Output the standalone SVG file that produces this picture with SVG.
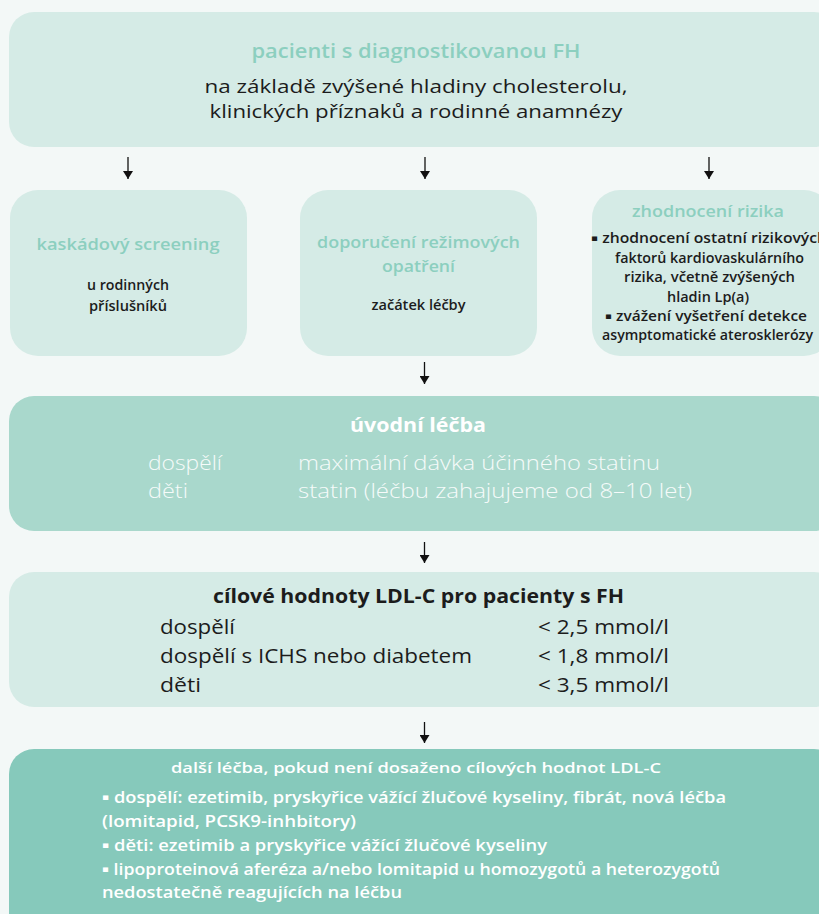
<svg xmlns="http://www.w3.org/2000/svg" width="819" height="914" viewBox="0 0 819 914">
<defs>
<style>
.t{font-family:"Open Sans","Noto Sans","DejaVu Sans",sans-serif}
.pale{fill:#d5ebe6}
.mid{fill:#a9d8cc}
.deep{fill:#86c9bb}
.hd{fill:#8ccfbf;font-weight:600}
.blk{fill:#1c1c1c}
.wh{fill:#ffffff}
.lt{fill:#f6fbfa;font-weight:300}
.c{text-anchor:middle}
.b{font-size:9px}
.conn{stroke:#111;stroke-width:1.3;fill:none}
</style>
<marker id="ah" viewBox="0 0 8 10" refX="8" refY="5" markerWidth="8" markerHeight="10" markerUnits="userSpaceOnUse" orient="auto">
<path d="M0,0 L8,5 L0,10 Z" fill="#111"/>
</marker>
</defs>
<rect x="0" y="0" width="819" height="914" fill="#f3f8f7"/>

<g id="connectors">
<line class="conn" x1="128" y1="157" x2="128" y2="179" marker-end="url(#ah)"/>
<line class="conn" x1="425" y1="157" x2="425" y2="179" marker-end="url(#ah)"/>
<line class="conn" x1="709" y1="157" x2="709" y2="179" marker-end="url(#ah)"/>
<line class="conn" x1="424.5" y1="362" x2="424.5" y2="384" marker-end="url(#ah)"/>
<line class="conn" x1="424.5" y1="542" x2="424.5" y2="563" marker-end="url(#ah)"/>
<line class="conn" x1="424.5" y1="722" x2="424.5" y2="743" marker-end="url(#ah)"/>
</g>

<g id="node-patients">
<rect class="pale" x="9" y="12" width="830" height="135" rx="25"/>
<text class="t hd c" x="416" y="58" font-size="19" textLength="329" lengthAdjust="spacingAndGlyphs">pacienti s diagnostikovanou FH</text>
<text class="t blk c" x="416" y="93" font-size="19" textLength="423" lengthAdjust="spacingAndGlyphs">na základě zvýšené hladiny cholesterolu,</text>
<text class="t blk c" x="416" y="118" font-size="19" textLength="413" lengthAdjust="spacingAndGlyphs">klinických příznaků a rodinné anamnézy</text>
</g>

<g id="node-screening">
<rect class="pale" x="10" y="190" width="237" height="166" rx="28"/>
<text class="t hd c" x="128" y="250" font-size="17" textLength="183" lengthAdjust="spacingAndGlyphs">kaskádový screening</text>
<text class="t blk c" x="128" y="290" font-size="13.5" font-weight="600" textLength="82" lengthAdjust="spacingAndGlyphs">u rodinných</text>
<text class="t blk c" x="128" y="311" font-size="13.5" font-weight="600" textLength="78" lengthAdjust="spacingAndGlyphs">příslušníků</text>
</g>

<g id="node-regime">
<rect class="pale" x="300" y="190" width="237" height="166" rx="28"/>
<text class="t hd c" x="418.5" y="248" font-size="17" textLength="203" lengthAdjust="spacingAndGlyphs">doporučení režimových</text>
<text class="t hd c" x="418.5" y="272" font-size="17" textLength="73" lengthAdjust="spacingAndGlyphs">opatření</text>
<text class="t blk c" x="418.5" y="310" font-size="13.5" font-weight="600" textLength="94" lengthAdjust="spacingAndGlyphs">začátek léčby</text>
</g>

<g id="node-risk">
<rect class="pale" x="592" y="190" width="240" height="166" rx="28"/>
<text class="t hd c" x="708" y="217" font-size="17" textLength="152" lengthAdjust="spacingAndGlyphs">zhodnocení rizika</text>
<text class="t blk c" x="709" y="243" font-size="13.5" font-weight="600" textLength="236" lengthAdjust="spacingAndGlyphs"><tspan class="b" dy="-2.5">▪</tspan><tspan dy="2.5">  zhodnocení ostatní rizikových</tspan></text>
<text class="t blk c" x="709.5" y="263" font-size="13.5" font-weight="600" textLength="189" lengthAdjust="spacingAndGlyphs">faktorů kardiovaskulárního</text>
<text class="t blk c" x="709.5" y="282" font-size="13.5" font-weight="600" textLength="171" lengthAdjust="spacingAndGlyphs">rizika, včetně zvýšených</text>
<text class="t blk c" x="708" y="302" font-size="13.5" font-weight="600" textLength="82" lengthAdjust="spacingAndGlyphs">hladin Lp(a)</text>
<text class="t blk c" x="706" y="321" font-size="13.5" font-weight="600" textLength="202" lengthAdjust="spacingAndGlyphs"><tspan class="b" dy="-2.5">▪</tspan><tspan dy="2.5">  zvážení vyšetření detekce</tspan></text>
<text class="t blk c" x="707.5" y="340" font-size="13.5" font-weight="600" textLength="211" lengthAdjust="spacingAndGlyphs">asymptomatické aterosklerózy</text>
</g>

<g id="node-initial">
<rect class="mid" x="9" y="396" width="830" height="135" rx="25"/>
<text class="t wh c" x="418" y="432" font-size="19" font-weight="700" textLength="136" lengthAdjust="spacingAndGlyphs">úvodní léčba</text>
<text class="t lt" x="148" y="470" font-size="20" textLength="74" lengthAdjust="spacingAndGlyphs">dospělí</text>
<text class="t lt" x="298" y="470" font-size="20" textLength="362" lengthAdjust="spacingAndGlyphs">maximální dávka účinného statinu</text>
<text class="t lt" x="148" y="498" font-size="20" textLength="40" lengthAdjust="spacingAndGlyphs">děti</text>
<text class="t lt" x="298" y="498" font-size="20" textLength="394" lengthAdjust="spacingAndGlyphs">statin (léčbu zahajujeme od 8–10 let)</text>
</g>

<g id="node-targets">
<rect class="pale" x="9" y="572" width="830" height="135" rx="25"/>
<text class="t blk c" x="418.5" y="603" font-size="20" font-weight="700" textLength="411" lengthAdjust="spacingAndGlyphs">cílové hodnoty LDL-C pro pacienty s FH</text>
<text class="t blk" x="160" y="634" font-size="20" textLength="75" lengthAdjust="spacingAndGlyphs">dospělí</text>
<text class="t blk" x="538" y="634" font-size="20" textLength="131" lengthAdjust="spacingAndGlyphs">&lt; 2,5 mmol/l</text>
<text class="t blk" x="160" y="663" font-size="20" textLength="312" lengthAdjust="spacingAndGlyphs">dospělí s ICHS nebo diabetem</text>
<text class="t blk" x="538" y="663" font-size="20" textLength="131" lengthAdjust="spacingAndGlyphs">&lt; 1,8 mmol/l</text>
<text class="t blk" x="160" y="692" font-size="20" textLength="41" lengthAdjust="spacingAndGlyphs">děti</text>
<text class="t blk" x="538" y="692" font-size="20" textLength="131" lengthAdjust="spacingAndGlyphs">&lt; 3,5 mmol/l</text>
</g>

<g id="node-further">
<rect class="deep" x="9" y="749" width="830" height="190" rx="25"/>
<text class="t wh c" x="416" y="773" font-size="15" font-weight="600" textLength="490" lengthAdjust="spacingAndGlyphs">další léčba, pokud není dosaženo cílových hodnot LDL-C</text>
<text class="t wh" x="102" y="803" font-size="15.5" font-weight="600" textLength="624" lengthAdjust="spacingAndGlyphs"><tspan class="b" dy="-3">▪</tspan><tspan dy="3"> dospělí: ezetimib, pryskyřice vážící žlučové kyseliny, fibrát, nová léčba</tspan></text>
<text class="t wh" x="102" y="827" font-size="15.5" font-weight="600" textLength="254" lengthAdjust="spacingAndGlyphs">(lomitapid, PCSK9-inhbitory)</text>
<text class="t wh" x="102" y="851" font-size="15.5" font-weight="600" textLength="445" lengthAdjust="spacingAndGlyphs"><tspan class="b" dy="-3">▪</tspan><tspan dy="3"> děti: ezetimib a pryskyřice vážící žlučové kyseliny</tspan></text>
<text class="t wh" x="102" y="875" font-size="15.5" font-weight="600" textLength="618" lengthAdjust="spacingAndGlyphs"><tspan class="b" dy="-3">▪</tspan><tspan dy="3"> lipoproteinová aferéza a/nebo lomitapid u homozygotů a heterozygotů</tspan></text>
<text class="t wh" x="102" y="898" font-size="15.5" font-weight="600" textLength="300" lengthAdjust="spacingAndGlyphs">nedostatečně reagujících na léčbu</text>
</g>
</svg>
